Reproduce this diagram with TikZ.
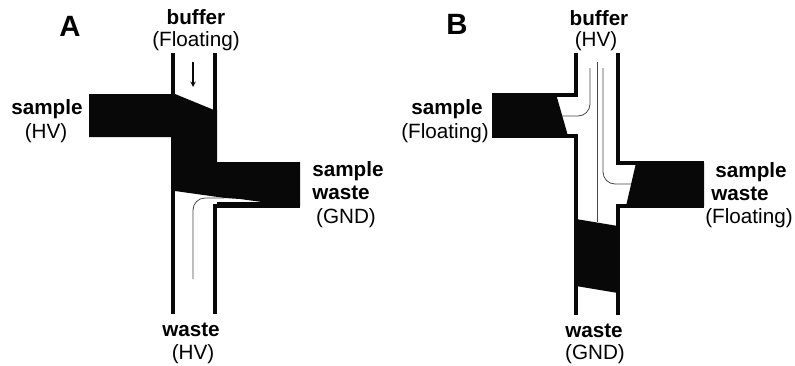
\documentclass[tikz,border=0pt]{standalone}
\usepackage{fontspec}
\setmainfont{Liberation Sans}
\usetikzlibrary{arrows,calc,positioning}
\definecolor{negro}{RGB}{8, 8, 8}
\definecolor{grisOscuro}{RGB}{70, 70, 70}
\tikzstyle{wall}  =[line width=3pt, draw=negro]
\tikzstyle{plug}  =[fill=negro, draw=none]
\tikzstyle{flow}  =[line width=0.6pt, draw=grisOscuro, rounded corners=9pt]
\tikzstyle{port}  =[inner sep=0pt, font=\fontsize{15.5pt}{17pt}\selectfont\bfseries]
\tikzstyle{volt}  =[inner sep=0pt, font=\fontsize{15.5pt}{17pt}\selectfont]
\tikzstyle{panel} =[inner sep=0pt, font=\fontsize{22pt}{24pt}\selectfont\bfseries]

\begin{document}
\begin{tikzpicture}[x=0.75pt,y=-0.75pt]
        \useasboundingbox (0,0) rectangle (795,365);

        \begin{scope}[xshift=0pt]
            \node (panelA) [panel] at (70,26) {A};

            \fill [plug] (89,94) -- (175,94) -- (214,110) -- (217,110) -- (217,162)
                -- (300,162) -- (300,206) -- (217,206) -- (217,202) -- (262,202)
                -- (240,199) -- (225,198) -- (175,191) -- (175,137) -- (89,137) -- cycle;

            % channel walls
            \draw [wall] (173,53) -- (173,94);
            \draw [wall] (215,53) -- (215,162);
            \draw [wall] (173,137) -- (173,314);
            \draw [wall] (300,206) -- (215,206) -- (215,314);

            \draw [flow] (193,279) -- (193,198) -- (224,198);

            \coordinate (arrowTop) at (193,62);
            \coordinate (arrowEnd) at (193,87);
            \draw [-stealth,line width=0.8pt,negro] (arrowTop) -- (arrowEnd);

            \node (bufferA) [port] at (196,17) {buffer};
            \node (bufferVA) [volt] at (196,41) {(Floating)};
            \node (sampleA) [port] at (47,109) {sample};
            \node (sampleVA) [volt] at (46,133) {(HV)};
            \node (swasteA) [port] at (348,171) {sample};
            \node (swasteBA) [port] at (341,193) {waste};
            \node (swasteVA) [volt] at (346,218) {(GND)};
            \node (wasteA) [port] at (191,330) {waste};
            \node (wasteVA) [volt] at (193,354) {(HV)};
        \end{scope}

        \begin{scope}[xshift=300pt]
            \node (panelB) [panel] at (57,24) {B};

            \fill [plug] (92,94) -- (156,94) -- (168,136) -- (92,136) -- cycle;
            \fill [plug] (236,163) -- (304,163) -- (304,206) -- (226,206) -- cycle;
            \fill [plug] (176,219) -- (218,226) -- (218,293) -- (176,286) -- cycle;

            % channel walls
            \draw [wall] (176,53) -- (176,95) -- (92,95);
            \draw [wall] (92,136) -- (176,136) -- (176,315);
            \draw [wall] (218,53) -- (218,163) -- (304,163);
            \draw [wall] (304,206) -- (218,206) -- (218,315);

            \draw [flow] (190,68) -- (190,116) -- (162,116);
            \draw [flow] (197,62) -- (197,222);
            \draw [flow] (203,68) -- (203,184) -- (231,184);

            \node (bufferB) [port] at (199,18) {buffer};
            \node (bufferVB) [volt] at (196,41) {(HV)};
            \node (sampleB) [port] at (47,109) {sample};
            \node (sampleVB) [volt] at (45,133) {(Floating)};
            \node (swasteB) [port] at (351,172) {sample};
            \node (swasteBB) [port] at (340,194) {waste};
            \node (swasteVB) [volt] at (349,218) {(Floating)};
            \node (wasteB) [port] at (194,331) {waste};
            \node (wasteVB) [volt] at (195,354) {(GND)};
        \end{scope}
\end{tikzpicture}
\end{document}
